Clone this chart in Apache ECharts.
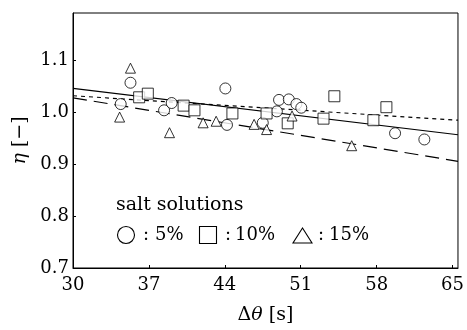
<!DOCTYPE html>
<html><head><meta charset="utf-8">
<script src="https://cdn.jsdelivr.net/npm/echarts@6/dist/echarts.min.js"></script>
<style>html,body{margin:0;padding:0;background:#fff}#c{width:467px;height:330px}</style>
</head><body><div id="c"></div>
<script>
// data: [Δθ (s), η]
const salt5 = [[34.4,1.015],[35.3,1.056],[38.4,1.003],[39.1,1.017],[44.05,1.045],[44.2,0.975],[47.5,0.979],[48.8,1.001],[49.0,1.023],[49.9,1.024],[50.6,1.015],[51.05,1.008],[59.7,0.959],[62.4,0.947]];
const salt10 = [[36.1,1.028],[36.9,1.035],[40.2,1.012],[41.2,1.003],[44.7,0.997],[47.85,0.997],[49.8,0.978],[53.1,0.987],[54.1,1.030],[57.7,0.984],[58.9,1.009]];
const salt15 = [[34.3,0.990],[35.3,1.084],[38.9,0.960],[42.0,0.979],[43.2,0.982],[46.7,0.976],[47.85,0.966],[50.2,0.992],[55.7,0.935]];
const fitSolid = [[30,1.045],[65.5,0.956]];
const fitShortDash = [[30,1.031],[65.5,0.984]];
const fitLongDash = [[30,1.027],[65.5,0.905]];
const xTicks = {min:30, max:65.5, step:7};
const yTicks = {min:0.7, max:1.19, step:0.1};
const legendTitle = 'salt solutions';
const legendLabels = ['5%','10%','15%'];

const serif = '"DejaVu Serif","Liberation Serif",serif';
const chart = echarts.init(document.getElementById('c'));
const mk = (data, symbol, size) => ({type:'scatter', data, symbol, symbolSize:size,
  itemStyle:{color:'#fff', borderColor:'#000', borderWidth:1}, z:3});
const ln = (data, type) => ({type:'line', data, symbol:'none', z:2,
  lineStyle:{color:'#000', width:1.2, type}});
const txt = (x, y, s) => ({type:'text', x, y, style:{text:s, font:'18px '+serif, fill:'#000', verticalAlign:'middle'}});
chart.setOption({
  animation:false,
  grid:{left:73, right:5, top:13, bottom:56, show:true, borderColor:'#000', borderWidth:1},
  xAxis:{type:'value', min:xTicks.min, max:xTicks.max, interval:xTicks.step,
    axisLine:{lineStyle:{color:'#000'}}, splitLine:{show:false},
    axisTick:{inside:true, length:3, lineStyle:{color:'#000'}},
    axisLabel:{showMaxLabel:false, color:'#000', fontFamily:serif, fontSize:18, margin:8},
    name:'Δ{i|θ} [s]', nameLocation:'middle', nameGap:38,
    nameTextStyle:{color:'#000', fontFamily:serif, fontSize:19, verticalAlign:'top',
      rich:{i:{fontStyle:'italic', fontFamily:serif, fontSize:19}}}},
  yAxis:{type:'value', min:yTicks.min, max:yTicks.max, interval:yTicks.step,
    axisLine:{lineStyle:{color:'#000'}}, splitLine:{show:false},
    axisTick:{inside:true, length:3, lineStyle:{color:'#000'}},
    axisLabel:{showMaxLabel:false, color:'#000', fontFamily:serif, fontSize:18, margin:4,
      formatter:v=>v.toFixed(1)},
    name:'{i|η} [−]', nameLocation:'middle', nameGap:42,
    nameTextStyle:{color:'#000', fontFamily:serif, fontSize:19,
      rich:{i:{fontStyle:'italic', fontFamily:serif, fontSize:19}}}},
  graphic:[
    {type:'text', x:116, y:205, style:{text:legendTitle, font:'19px '+serif, fill:'#000', verticalAlign:'middle'}},
    {type:'circle', shape:{cx:126, cy:235, r:8.5}, style:{fill:'none', stroke:'#000', lineWidth:1.1}},
    txt(143, 235, ':'), txt(155, 235, legendLabels[0]),
    {type:'rect', shape:{x:199.5, y:226.5, width:17, height:17}, style:{fill:'none', stroke:'#000', lineWidth:1.1}},
    txt(225, 235, ':'), txt(235, 235, legendLabels[1]),
    {type:'polygon', shape:{points:[[302.5,228],[293,243],[312,243]]}, style:{fill:'none', stroke:'#000', lineWidth:1.1}},
    txt(318, 235, ':'), txt(329, 235, legendLabels[2])
  ],
  series:[
    ln(fitSolid,'solid'),
    ln(fitShortDash,[4,4]),
    ln(fitLongDash,[14,7]),
    mk(salt5,'circle',11),
    mk(salt10,'rect',11),
    mk(salt15,'triangle',10)
  ]
});
</script></body></html>
